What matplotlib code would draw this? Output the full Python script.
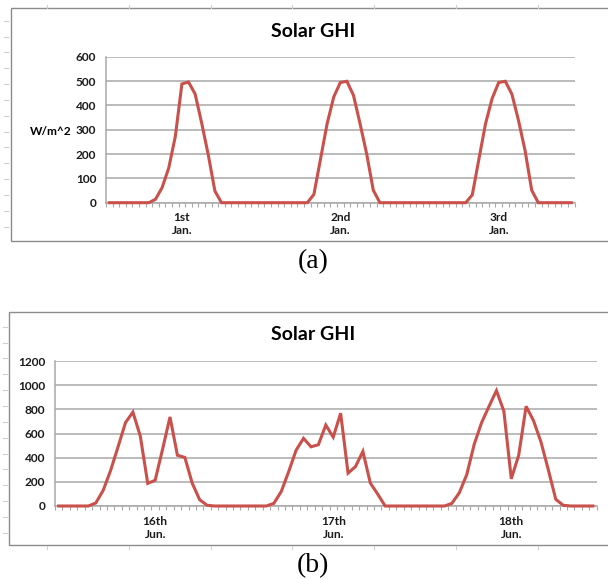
import matplotlib
matplotlib.use("Agg")
import matplotlib.pyplot as plt
from matplotlib.patches import Rectangle
from matplotlib.lines import Line2D
import numpy as np

# ---------------- data ----------------
jan_ghi = [0, 0, 0, 0, 0, 0, 0,
           14, 62, 142, 272, 488, 496, 447, 327, 196, 48,
           0, 0, 0, 0, 0, 0, 0, 0, 0, 0, 0, 0, 0, 0,
           34, 179, 324, 434, 494, 499, 441, 324, 200, 51,
           0, 0, 0, 0, 0, 0, 0, 0, 0, 0, 0, 0, 0, 0,
           32, 179, 324, 428, 494, 499, 446, 338, 214, 51,
           0, 0, 0, 0, 0, 0]
jan_day_labels = ["1st\nJan.", "2nd\nJan.", "3rd\nJan."]
jan_day_pos = [11, 35, 59]
jan_yticks = [0, 100, 200, 300, 400, 500, 600]

jun_ghi = [0, 0, 0, 0, 0,
           25, 130, 295, 490, 690, 777, 578, 187, 213, 470, 737, 420, 402, 188, 52, 6,
           0, 0, 0, 0, 0, 0, 0, 0,
           22, 120, 285, 462, 560, 490, 507, 670, 570, 768, 272, 326, 452, 190, 98,
           0, 0, 0, 0, 0, 0, 0, 0, 0,
           22, 110, 260, 510, 690, 825, 955, 785, 225, 420, 825, 706, 530, 298, 55, 6,
           0, 0, 0, 0]
jun_day_labels = ["16th\nJun.", "17th\nJun.", "18th\nJun."]
jun_day_pos = [13, 37, 61]
jun_yticks = [0, 200, 400, 600, 800, 1000, 1200]

title = "Solar GHI"
ylabel_a = "W/m^2"

# ---------------- style ----------------
W, H = 608, 580
LINE = "#C9504B"
GRID = "#A8A8A8"
FONT = "Lato"
TICK_FS = 8.6

fig = plt.figure(figsize=(W / 100, H / 100), dpi=100)
fig.patch.set_facecolor("white")


def fx(px):
    return px / W


def fy(py):
    return 1 - py / H


def draw_panel(rect_px, values, yticks, day_pos, day_labels):
    x0, y_top, x1, y_bot = rect_px
    ax = fig.add_axes([fx(x0), fy(y_bot), fx(x1) - fx(x0), fy(y_top) - fy(y_bot)])
    n = len(values)
    x = np.arange(n)
    ax.plot(x, values, color=LINE, lw=2.2, solid_joinstyle="miter", zorder=3, clip_on=False)
    ax.set_xlim(-0.5, n - 0.5)
    ax.set_ylim(yticks[0], yticks[-1])
    ax.set_yticks(yticks)
    ax.set_yticklabels([str(v) for v in yticks], fontfamily=FONT, fontweight="bold",
                       fontsize=TICK_FS, color="#1a1a1a")
    ax.tick_params(axis="y", length=0, pad=7)
    ax.yaxis.grid(True, color=GRID, lw=1.1)
    ax.set_axisbelow(True)
    ax.set_xticks(day_pos)
    ax.set_xticklabels(day_labels, fontfamily=FONT, fontweight="bold", fontsize=TICK_FS,
                       color="#1a1a1a", linespacing=1.2)
    ax.set_xticks(np.arange(n + 1) - 0.5, minor=True)
    ax.tick_params(axis="x", which="major", length=0, pad=7)
    ax.tick_params(axis="x", which="minor", length=3, width=0.8, color=GRID, direction="out")
    for s in ["top", "right"]:
        ax.spines[s].set_visible(False)
    for s in ["left", "bottom"]:
        ax.spines[s].set_color(GRID)
        ax.spines[s].set_linewidth(1.1)
    ax.set_facecolor("none")
    return ax


# frames (chart boxes)
fig.add_artist(Rectangle((fx(10.5), fy(241)), fx(640) - fx(10.5), fy(8.3) - fy(241),
                         transform=fig.transFigure, fill=False, ec="#8c8c8c", lw=1.0))
fig.add_artist(Rectangle((fx(8.5), fy(545)), fx(640) - fx(8.5), fy(311.7) - fy(545),
                         transform=fig.transFigure, fill=False, ec="#8c8c8c", lw=1.0))

# faint spreadsheet ruler marks
for yy in np.arange(20.7, 235, 15.85):
    fig.add_artist(Line2D([fx(4), fx(8)], [fy(yy), fy(yy)], transform=fig.transFigure,
                          color="#cfcfcf", lw=0.8))
for yy in np.arange(326.7, 545, 15.85):
    fig.add_artist(Line2D([fx(3), fx(7)], [fy(yy), fy(yy)], transform=fig.transFigure,
                          color="#cfcfcf", lw=0.8))
for xx in np.arange(47, 608, 81.8):
    fig.add_artist(Line2D([fx(xx), fx(xx)], [fy(5), fy(8)], transform=fig.transFigure,
                          color="#cfcfcf", lw=0.8))
    fig.add_artist(Line2D([fx(xx), fx(xx)], [fy(545.5), fy(549)], transform=fig.transFigure,
                          color="#cfcfcf", lw=0.8))

# panel (a)
ax_a = draw_panel((106, 56.7, 574.6, 202.7), jan_ghi, jan_yticks, jan_day_pos, jan_day_labels)
fig.text(fx(313), fy(31.5), title, ha="center", va="center", fontfamily=FONT,
         fontweight="bold", fontsize=14, color="black")
fig.text(fx(50.5), fy(131), ylabel_a, ha="center", va="center", fontfamily=FONT,
         fontweight="bold", fontsize=TICK_FS, color="black")
fig.text(fx(313), fy(262), "(a)", ha="center", va="center", fontfamily="Liberation Serif",
         fontsize=20, color="black")

# panel (b)
ax_b = draw_panel((55, 361, 596.6, 506), jun_ghi, jun_yticks, jun_day_pos, jun_day_labels)
fig.text(fx(313), fy(335), title, ha="center", va="center", fontfamily=FONT,
         fontweight="bold", fontsize=14, color="black")
fig.text(fx(313), fy(566), "(b)", ha="center", va="center", fontfamily="Liberation Serif",
         fontsize=20, color="black")

fig.savefig("out.png", dpi=100, facecolor="white")
